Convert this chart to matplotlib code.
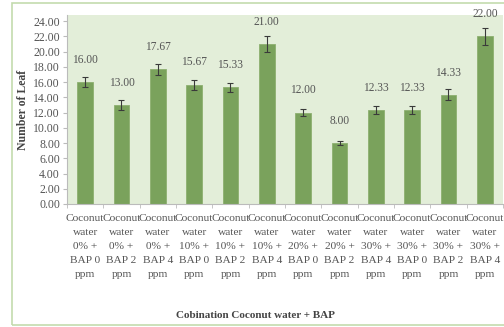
import numpy as np
import matplotlib
matplotlib.use('Agg')
import matplotlib.pyplot as plt
from matplotlib.patches import Rectangle

plt.rcParams['font.family'] = ['Liberation Serif', 'DejaVu Serif']

# data
cw = ['0%', '0%', '0%', '10%', '10%', '10%', '20%', '20%', '30%', '30%', '30%', '30%']
bap = ['0', '2', '4', '0', '2', '4', '0', '2', '4', '0', '2', '4']
values = [16.00, 13.00, 17.67, 15.67, 15.33, 21.00, 12.00, 8.00, 12.33, 12.33, 14.33, 22.00]
errors = [0.7, 0.6, 0.75, 0.65, 0.6, 1.0, 0.5, 0.3, 0.5, 0.5, 0.7, 1.1]
labels = ['Coconut\nwater\n%s +\nBAP %s\nppm' % (c, b) for c, b in zip(cw, bap)]

fig = plt.figure(figsize=(5.04, 3.27), dpi=100)
fig.patch.set_facecolor('white')
ax = fig.add_axes([67 / 504, 1 - 204 / 327, 436 / 504, 189 / 327])
ax.set_facecolor('#e3eed9')

x = np.arange(len(values))
ax.bar(x, values, width=0.43, color='#7aa25c', edgecolor='#8db070', linewidth=0.6,
       yerr=errors, error_kw=dict(ecolor='#3a3a3a', elinewidth=0.8, capsize=2.5, capthick=0.8))
for xi, v in zip(x, values):
    ax.text(xi, v + 2.9, '%.2f' % v, ha='center', va='center', fontsize=8.3, color='#555555',
            clip_on=False)

ax.set_xlim(-0.5, len(values) - 0.5)
ax.set_ylim(0, 24.8)
ax.set_yticks(np.arange(0, 25, 2))
ax.set_yticklabels(['%.2f' % t for t in np.arange(0, 25, 2)])
ax.set_xticks(x)
ax.set_xticklabels(labels, fontsize=8.2, color='#555555', linespacing=1.72)
ax.set_xticks(np.arange(-0.5, len(values), 1), minor=True)
ax.tick_params(axis='x', which='major', length=0, pad=7)
ax.tick_params(axis='x', which='minor', length=3, color='#bbbbbb')
ax.tick_params(axis='y', labelsize=8.5, labelcolor='#555555', length=3, color='#bbbbbb', pad=2)
for s in ['top', 'right']:
    ax.spines[s].set_visible(False)
for s in ['left', 'bottom']:
    ax.spines[s].set_color('#bbbbbb')
    ax.spines[s].set_linewidth(0.8)

fig.text(23 / 504, 1 - 110 / 327, 'Number of Leaf', rotation=90, ha='center', va='center',
         fontsize=8.5, fontweight='bold', color='#444444')
fig.text(255 / 504, 1 - 316 / 327, 'Cobination Coconut water + BAP', ha='center', va='center',
         fontsize=8, fontweight='bold', color='#444444')

fig.patches.append(Rectangle((12 / 504, 2 / 327), 520 / 504, 322 / 327, transform=fig.transFigure,
                             fill=False, edgecolor='#c3dbae', linewidth=1.2, zorder=0))

fig.savefig('out.png', dpi=100)
